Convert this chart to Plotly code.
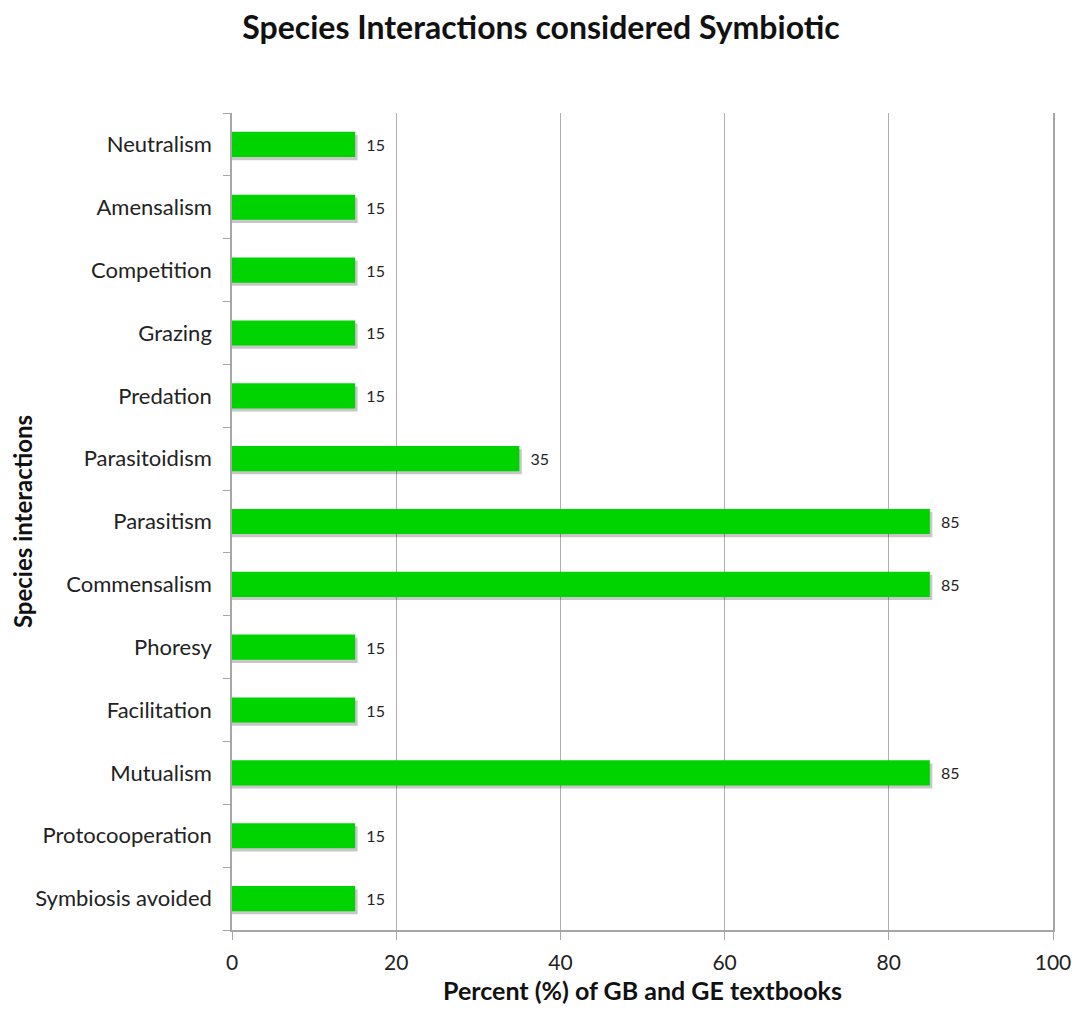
import plotly.graph_objects as go

categories = ["Symbiosis avoided", "Protocooperation", "Mutualism", "Facilitation",
              "Phoresy", "Commensalism", "Parasitism", "Parasitoidism", "Predation",
              "Grazing", "Competition", "Amensalism", "Neutralism"]
values = [15, 15, 85, 15, 15, 85, 85, 35, 15, 15, 15, 15, 15]
x_ticks = [0, 20, 40, 60, 80, 100]

FONT = "Lato"

fig = go.Figure()
# subtle drop shadow
fig.add_trace(go.Bar(
    y=categories, x=[v + 0.3 for v in values], orientation="h",
    width=0.4, offset=-0.25, marker=dict(color="rgba(0,0,0,0.22)", line=dict(width=0)),
    hoverinfo="skip", showlegend=False))
fig.add_trace(go.Bar(
    y=categories, x=values, orientation="h",
    width=0.4, offset=-0.2, marker=dict(color="#00D400", line=dict(width=0)),
    text=["\u00a0\u00a0" + str(v) for v in values], textposition="outside",
    textfont=dict(family=FONT, size=16, color="#222222"),
    cliponaxis=False, showlegend=False))

fig.update_layout(
    width=1066, height=997, barmode="overlay",
    paper_bgcolor="white", plot_bgcolor="white",
    margin=dict(l=224, r=21, t=105, b=75, autoexpand=False),
    title=dict(text="<b>Species Interactions considered Symbiotic</b>",
               x=0.5, xanchor="center", y=0.98, yanchor="middle",
               font=dict(family=FONT, size=32, color="#111111")),
    font=dict(family=FONT, size=22, color="#222222"),
)
fig.update_xaxes(
    range=[0, 100], tickvals=x_ticks, ticktext=[str(t) for t in x_ticks],
    showgrid=True, gridcolor="#AFAFAF", gridwidth=1.3,
    showline=True, linecolor="#A6A6A6", linewidth=1.5,
    ticks="outside", ticklen=8, tickcolor="#A6A6A6",
    ticklabelstandoff=5, ticklabeloverflow="allow",
    zeroline=False,
    tickfont=dict(family=FONT, size=21, color="#222222"),
    title=dict(text="<b>Percent (%) of GB and GE textbooks</b>", standoff=29,
               font=dict(family=FONT, size=25, color="#111111")),
)
fig.update_yaxes(
    categoryorder="array", categoryarray=categories,
    showline=True, linecolor="#A6A6A6", linewidth=1.5, mirror=True,
    ticks="outside", ticklen=7, tickcolor="#A6A6A6", tickson="boundaries",
    ticklabelstandoff=14, showgrid=False,
    tickfont=dict(family=FONT, size=22, color="#222222"),
    title=dict(text="<b>Species interactions</b>", standoff=4,
               font=dict(family=FONT, size=24, color="#111111")),
)
fig.write_html("out.html")
